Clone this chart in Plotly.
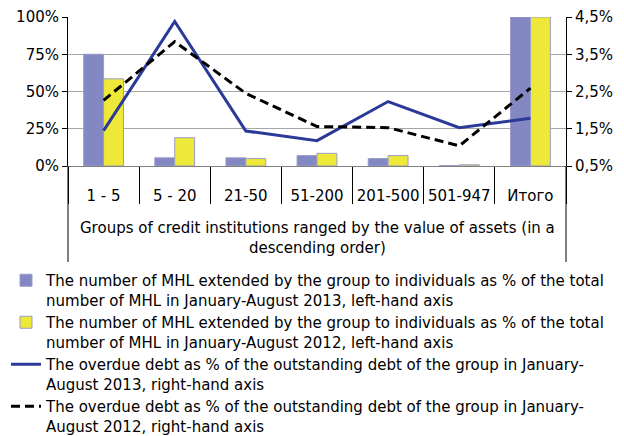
import plotly.graph_objects as go

categories = ["1 - 5", "5 - 20", "21-50", "51-200", "201-500", "501-947", "Итого"]
mhl_2013 = [75, 5.5, 5.5, 7, 5, 0.3, 100]
mhl_2012 = [58.5, 19, 5, 8.5, 7, 0.8, 100]
overdue_2013 = [1.45, 4.38, 1.44, 1.18, 2.23, 1.53, 1.78]
overdue_2012 = [2.26, 3.84, 2.45, 1.56, 1.53, 1.04, 2.59]

names = [
    "The number of MHL extended by the group to individuals as % of the total<br>number of MHL in January-August 2013, left-hand axis",
    "The number of MHL extended by the group to individuals as % of the total<br>number of MHL in January-August 2012, left-hand axis",
    "The overdue debt as % of the outstanding debt of the group in January-<br>August 2013, right-hand axis",
    "The overdue debt as % of the outstanding debt of the group in January-<br>August 2012, right-hand axis",
]
axis_title = "Groups of credit institutions ranged by the value of assets (in a<br>descending order)"

FONT = "DejaVu Sans"
FS = 15
OFF = 8  # page body margin
W, H = 624 - OFF, 436 - OFF
ML, MT = 68 - OFF, 17 - OFF
MR = W - (566 - OFF)
MB = H - (166 - OFF)
PW = W - ML - MR
PH = H - MT - MB
BOTTOM = H - MB  # fig-y of plot bottom


def py(page_y):
    return -((page_y - OFF) - BOTTOM) / PH


fig = go.Figure()
fig.add_trace(go.Bar(x=categories, y=mhl_2013, name=names[0],
                     marker=dict(color="#8488C2", line=dict(color="#9A9CCB", width=1))))
fig.add_trace(go.Bar(x=categories, y=mhl_2012, name=names[1],
                     marker=dict(color="#EEE838", line=dict(color="#9A9CCB", width=1))))
fig.add_trace(go.Scatter(x=categories, y=overdue_2013, name=names[2], yaxis="y2",
                         mode="lines", line=dict(color="#2B3A98", width=3)))
fig.add_trace(go.Scatter(x=categories, y=overdue_2012, name=names[3], yaxis="y2",
                         mode="lines", line=dict(color="#000000", width=3, dash="9px,5px")))

fig.update_layout(
    width=W, height=H,
    margin=dict(l=ML, r=MR, t=MT, b=MB, autoexpand=False),
    paper_bgcolor="white", plot_bgcolor="white",
    font=dict(family=FONT, size=FS, color="#000000"),
    separators=",.",
    barmode="group", bargap=0.44, bargroupgap=0,
    xaxis=dict(
        type="category", automargin=False,
        showline=True, linecolor="#808080", linewidth=1,
        ticks="outside", tickson="boundaries", ticklen=37, tickcolor="#000000", tickwidth=1,
        tickangle=0, ticklabelstandoff=16,
        tickfont=dict(size=FS),
    ),
    yaxis=dict(
        range=[0, 100], dtick=25, ticksuffix="%", automargin=False,
        showgrid=True, gridcolor="#A6A6A6", gridwidth=1,
        showline=True, linecolor="#000000", linewidth=1,
        ticks="outside", ticklen=5, tickcolor="#000000",
        zeroline=False, tickfont=dict(size=FS),
    ),
    yaxis2=dict(
        range=[0.5, 4.5], dtick=1, tick0=0.5, tickformat=".1f", ticksuffix="%",
        overlaying="y", side="right", showgrid=False, automargin=False,
        showline=True, linecolor="#000000", linewidth=1,
        ticks="outside", ticklen=5, tickcolor="#000000",
        zeroline=False, tickfont=dict(size=FS),
    ),
    legend=dict(
        x=-(ML + 2) / PW, xanchor="left",
        y=py(264), yanchor="top",
        font=dict(size=FS), valign="top", traceorder="normal",
        bgcolor="rgba(0,0,0,0)", tracegroupgap=0, itemwidth=30,
    ),
    showlegend=True,
)

fig.add_annotation(text=axis_title, xref="paper", yref="paper", x=0.5,
                   y=py(238), yanchor="middle", showarrow=False,
                   font=dict(size=FS))

for xp in [0, 1]:
    fig.add_shape(type="line", xref="paper", yref="paper", x0=xp, x1=xp, y0=0, y1=py(262),
                  line=dict(color="#000000", width=1))

fig.write_html("out.html")
